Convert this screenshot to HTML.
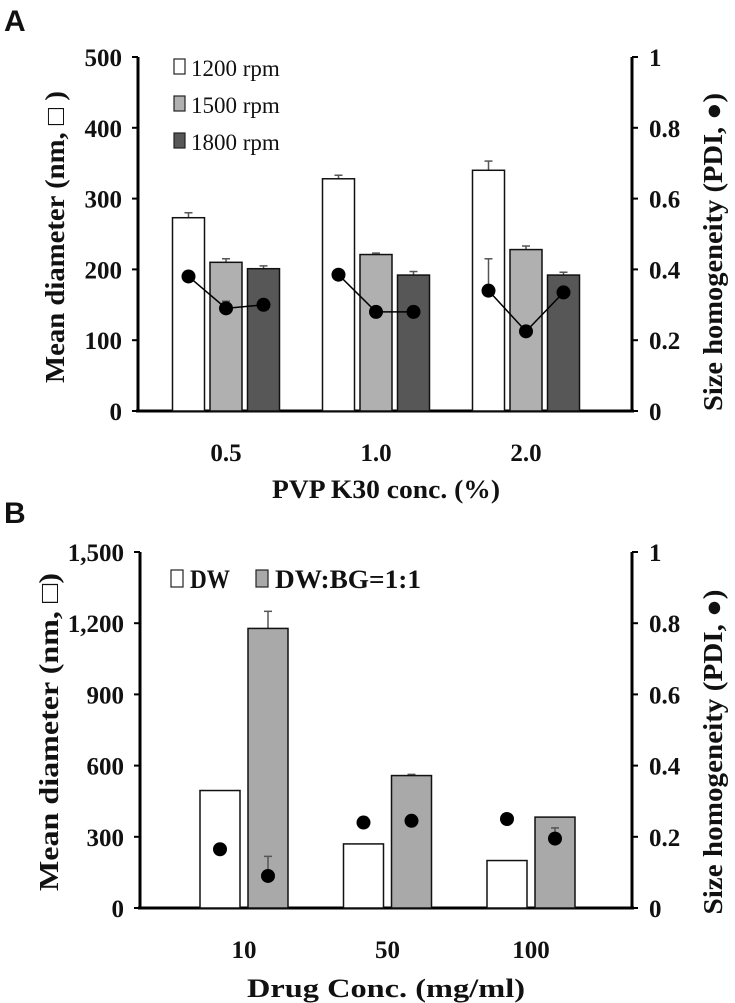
<!DOCTYPE html>
<html><head><meta charset="utf-8"><style>
body{margin:0;background:#fff}
svg{display:block}
text{font-family:"Liberation Serif",serif;font-weight:bold;fill:#111}
</style></head><body>
<div style="position:relative;width:735px;height:1003px">
<svg id="s" width="735" height="1003" viewBox="0 0 735 1003" style="position:absolute;left:0;top:0">
<text x="4" y="31" style="font-family:'Liberation Sans',sans-serif;font-size:30px">A</text>
<text x="4" y="523" style="font-family:'Liberation Sans',sans-serif;font-size:30px">B</text>
<g id="ga"></g>
<g id="gb"></g>
<text x="386" y="498" text-anchor="middle" font-size="26" textLength="228" lengthAdjust="spacingAndGlyphs">PVP K30 conc. (%)</text>
<text transform="translate(64,237) rotate(-90)" text-anchor="middle" font-size="27" textLength="292" lengthAdjust="spacingAndGlyphs">Mean diameter (nm, □ )</text>
<text transform="translate(722,252) rotate(-90)" text-anchor="middle" font-size="27" textLength="318" lengthAdjust="spacingAndGlyphs">Size homogeneity (PDI, ●)</text>
<text x="386" y="997" text-anchor="middle" font-size="26" textLength="278" lengthAdjust="spacingAndGlyphs">Drug Conc. (mg/ml)</text>
<text transform="translate(58,732) rotate(-90)" text-anchor="middle" font-size="27" textLength="318" lengthAdjust="spacingAndGlyphs">Mean diameter (nm, □)</text>
<text transform="translate(722,752) rotate(-90)" text-anchor="middle" font-size="27" textLength="325" lengthAdjust="spacingAndGlyphs">Size homogeneity (PDI, ●)</text>
</svg>
</div>
<script>
// Chart A data
const catsA = ["0.5","1.0","2.0"];
const seriesNamesA = ["1200 rpm","1500 rpm","1800 rpm"];
const diaA1200 = [273,328,340];
const diaA1500 = [210,221,228];
const diaA1800 = [201,192,192];
const errA1200 = [7,5,13];
const errA1500 = [5,2,5];
const errA1800 = [4,5,4];
const pdiA1200 = [0.38,0.385,0.34];
const pdiA1500 = [0.29,0.28,0.225];
const pdiA1800 = [0.30,0.28,0.335];
const pdiErrA1200 = [0,0,0.09];
const pdiErrA1500 = [0.02,0,0];
const pdiErrA1800 = [0,0,0];
const leftTicksA = [0,100,200,300,400,500];
const rightTicksA = [0,0.2,0.4,0.6,0.8,1];
const rightTickLabelsA = ["0","0.2","0.4","0.6","0.8","1"];
// Chart B data
const catsB = ["10","50","100"];
const seriesNamesB = ["DW","DW:BG=1:1"];
const diaBDW = [495,270,200];
const diaBBG = [1178,558,383];
const errBDW = [0,0,0];
const errBBG = [72,5,0];
const pdiBDW = [0.165,0.24,0.25];
const pdiBBG = [0.09,0.245,0.195];
const pdiErrBDW = [0,0,0];
const pdiErrBBG = [0.055,0,0.03];
const leftTicksB = [0,300,600,900,1200,1500];
const leftTickLabelsB = ["0","300","600","900","1,200","1,500"];
const rightTicksB = [0,0.2,0.4,0.6,0.8,1];
const rightTickLabelsB = ["0","0.2","0.4","0.6","0.8","1"];

const NS="http://www.w3.org/2000/svg";
function mk(parent,tag,attrs,text){const e=document.createElementNS(NS,tag);for(const k in attrs)e.setAttribute(k,attrs[k]);if(text!==undefined)e.textContent=text;parent.appendChild(e);return e;}

function drawChart(g,cfg){
  const yL=v=>cfg.base-(v/cfg.lmax)*(cfg.base-cfg.top);
  const yR=v=>cfg.base-(v/cfg.rmax)*(cfg.base-cfg.top);
  const xC=i=>cfg.x0+i*cfg.step;
  let e=mk(g,"line",{x1:cfg.left,y1:cfg.top,x2:cfg.left,y2:cfg.base+1,stroke:"#000","stroke-width":3});
  
  
  e=mk(g,"line",{x1:cfg.right,y1:cfg.top,x2:cfg.right,y2:cfg.base+1,stroke:"#000","stroke-width":3});
  
  
  e=mk(g,"line",{x1:cfg.left-2,y1:cfg.base,x2:cfg.right+2,y2:cfg.base,stroke:"#000","stroke-width":3});
  
  
  cfg.lticks.forEach((t,i)=>{
    mk(g,"line",{x1:cfg.left-6,y1:yL(t),x2:cfg.left,y2:yL(t),stroke:"#000","stroke-width":2});
    e=mk(g,"text",{x:cfg.left-16,y:yL(t)+9,"text-anchor":"end","font-size":cfg.fs},cfg.llabels[i]);
    
    
  });
  cfg.rticks.forEach((t,i)=>{
    mk(g,"line",{x1:cfg.right,y1:yR(t),x2:cfg.right+6,y2:yR(t),stroke:"#000","stroke-width":2});
    e=mk(g,"text",{x:cfg.right+17,y:yR(t)+9,"font-size":cfg.fs},cfg.rlabels[i]);
    
    
  });
  cfg.cats.forEach((c,i)=>{
    e=mk(g,"text",{x:xC(i),y:cfg.base+50,"text-anchor":"middle","font-size":cfg.fs},c);
    
    
  });
  const n=cfg.series.length;
  cfg.series.forEach((s,si)=>{
    s.vals.forEach((v,i)=>{
      const bx=xC(i)+(si-(n-1)/2)*cfg.bstep-cfg.bw/2;
      if(s.err[i]>0){
        const cx=bx+cfg.bw/2;
        mk(g,"line",{x1:cx,y1:yL(v),x2:cx,y2:yL(v+s.err[i]),stroke:"#555","stroke-width":1.5});
        mk(g,"line",{x1:cx-4,y1:yL(v+s.err[i]),x2:cx+4,y2:yL(v+s.err[i]),stroke:"#555","stroke-width":1.5});
      }
      e=mk(g,"rect",{x:bx,y:yL(v),width:cfg.bw,height:cfg.base-yL(v),fill:s.fill,stroke:"#111","stroke-width":1.5});
      
      
    });
  });
  cfg.cats.forEach((c,i)=>{
    const pts=cfg.series.map((s,si)=>[xC(i)+(si-(n-1)/2)*cfg.bstep, yR(s.pdi[i]), s.pdiErr[i], s.pdi[i]]);
    if(cfg.lines){
      e=mk(g,"polyline",{points:pts.map(p=>p[0]+","+p[1]).join(" "),fill:"none",stroke:"#000","stroke-width":1.5});
      
      
    }
    pts.forEach((p,si)=>{
      if(p[2]>0){
        mk(g,"line",{x1:p[0],y1:p[1],x2:p[0],y2:yR(p[3]+p[2]),stroke:"#555","stroke-width":1.5});
        mk(g,"line",{x1:p[0]-4,y1:yR(p[3]+p[2]),x2:p[0]+4,y2:yR(p[3]+p[2]),stroke:"#555","stroke-width":1.5});
      }
      e=mk(g,"circle",{cx:p[0],cy:p[1],r:7,fill:"#000"});
      
      
    });
  });
}

const ga=document.getElementById("ga");
drawChart(ga,{top:57,base:411,left:138,right:632,lmax:500,rmax:1,x0:226,step:150,bw:32,bstep:37.5,fs:25,lines:true,
  cats:catsA,lticks:leftTicksA,llabels:leftTicksA.map(String),rticks:rightTicksA,rlabels:rightTickLabelsA,
  series:[{key:"1200",vals:diaA1200,err:errA1200,pdi:pdiA1200,pdiErr:pdiErrA1200,fill:"#fff"},
          {key:"1500",vals:diaA1500,err:errA1500,pdi:pdiA1500,pdiErr:pdiErrA1500,fill:"#b0b0b0"},
          {key:"1800",vals:diaA1800,err:errA1800,pdi:pdiA1800,pdiErr:pdiErrA1800,fill:"#575757"}]});
const gb=document.getElementById("gb");
drawChart(gb,{top:552,base:908,left:140,right:632,lmax:1500,rmax:1,x0:244,step:143.5,bw:40,bstep:48,fs:25,lines:false,
  cats:catsB,lticks:leftTicksB,llabels:leftTickLabelsB,rticks:rightTicksB,rlabels:rightTickLabelsB,
  series:[{key:"dw",vals:diaBDW,err:errBDW,pdi:pdiBDW,pdiErr:pdiErrBDW,fill:"#fff"},
          {key:"dwbg",vals:diaBBG,err:errBBG,pdi:pdiBBG,pdiErr:pdiErrBBG,fill:"#a9a9a9"}]});

const legA=[["#fff",76],["#b0b0b0",113],["#575757",150]];
legA.forEach((l,i)=>{
  let e=mk(ga,"rect",{x:174,y:l[1]-17,width:11,height:15,fill:l[0],stroke:"#222","stroke-width":1.2});
  
  
  e=mk(ga,"text",{x:191,y:l[1],"font-size":23,style:"font-weight:normal"},seriesNamesA[i]);
  
  
});
[[171,"#fff",190],[256,"#a9a9a9",275]].forEach((l,i)=>{
  let e=mk(gb,"rect",{x:l[0],y:570,width:12,height:17,fill:l[1],stroke:"#222","stroke-width":1.2});
  
  
  e=mk(gb,"text",{x:l[2],y:588,"font-size":26,textLength:(i==0?40:146),lengthAdjust:"spacingAndGlyphs"},seriesNamesB[i]);
  
  
});
</script>
</body></html>
